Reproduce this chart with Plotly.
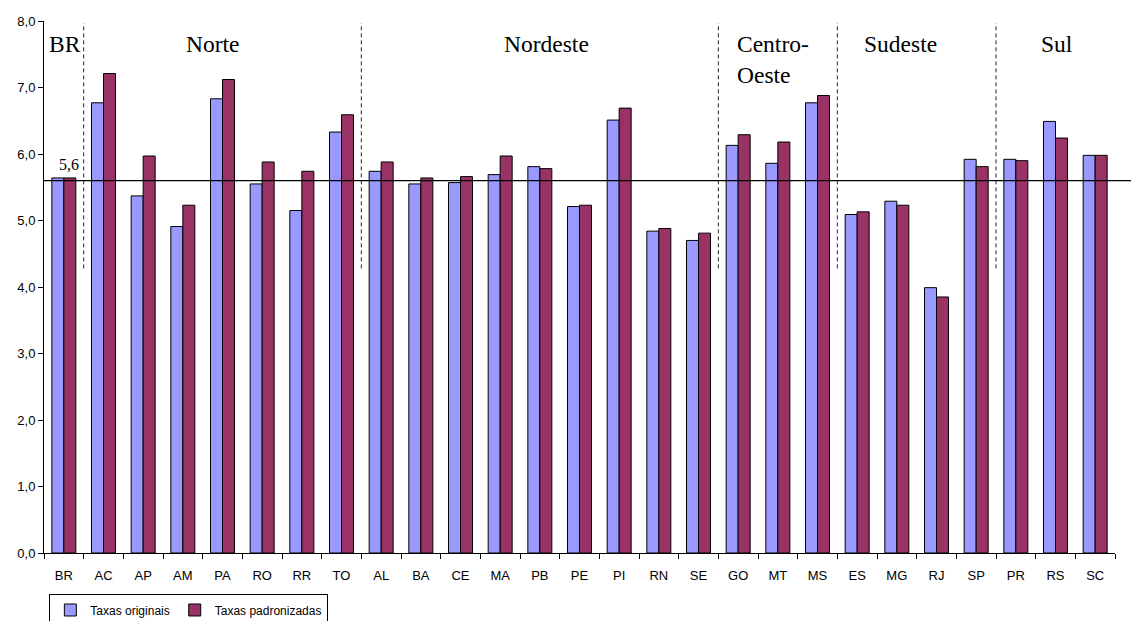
import plotly.graph_objects as go

# States grouped by region, with the national figure (BR) first
estados = ["BR", "AC", "AP", "AM", "PA", "RO", "RR", "TO",
           "AL", "BA", "CE", "MA", "PB", "PE", "PI", "RN", "SE",
           "GO", "MT", "MS", "ES", "MG", "RJ", "SP", "PR", "RS", "SC"]

taxas_originais = [5.64, 6.77, 5.37, 4.91, 6.83, 5.55, 5.15, 6.33,
                   5.74, 5.55, 5.57, 5.69, 5.81, 5.21, 6.51, 4.84, 4.70,
                   6.13, 5.86, 6.77, 5.09, 5.29, 3.99, 5.92, 5.92, 6.49, 5.98]

taxas_padronizadas = [5.64, 7.21, 5.97, 5.23, 7.12, 5.88, 5.74, 6.59,
                      5.88, 5.64, 5.66, 5.97, 5.78, 5.23, 6.69, 4.88, 4.81,
                      6.29, 6.18, 6.88, 5.13, 5.23, 3.85, 5.81, 5.90, 6.24, 5.98]

regioes = ["BR", "Norte", "Nordeste", "Centro-<br>Oeste", "Sudeste", "Sul"]
tamanho_regioes = [1, 7, 9, 3, 4, 3]

taxa_brasil = 5.6
rotulo_brasil = "5,6"

fig = go.Figure()
fig.add_trace(go.Bar(
    x=estados, y=taxas_originais, name="Taxas originais",
    marker=dict(color="#9999FF", line=dict(color="#000000", width=1)),
))
fig.add_trace(go.Bar(
    x=estados, y=taxas_padronizadas, name="Taxas padronizadas",
    marker=dict(color="#993366", line=dict(color="#000000", width=1)),
))

# horizontal reference line at the national rate
fig.add_shape(type="line", xref="paper", yref="y", x0=0, x1=1.015,
              y0=taxa_brasil, y1=taxa_brasil,
              line=dict(color="#000000", width=1.2))
fig.add_annotation(x=0.13, y=taxa_brasil, xref="x", yref="y",
                   text=rotulo_brasil, showarrow=False, yanchor="bottom",
                   yshift=6, font=dict(family="Liberation Serif", size=16, color="#000000"))

# dashed separators between regions
limite = -0.5
for n in tamanho_regioes[:-1]:
    limite += n
    fig.add_shape(type="line", xref="x", yref="y", x0=limite, x1=limite,
                  y0=4.28, y1=7.97,
                  line=dict(color="#222222", width=1, dash="4px,3px"))

# region titles
pos_regioes = [0.04, 3.77, 12.18, 16.92, 21.08, 25.03]
anc_regioes = ["center", "center", "center", "left", "center", "center"]
for nome, px, anc in zip(regioes, pos_regioes, anc_regioes):
    fig.add_annotation(x=px, y=7.88, xref="x", yref="y", text=nome,
                       showarrow=False, xanchor=anc, yanchor="top", align="left",
                       font=dict(family="Liberation Serif", size=23.5, color="#000000"))

fig.update_layout(
    width=1131, height=621,
    margin=dict(l=44, r=16, t=21, b=68, autoexpand=False),
    paper_bgcolor="white", plot_bgcolor="white",
    barmode="group", bargap=0.395, bargroupgap=0,
    separators=",.",
    font=dict(family="Liberation Sans", size=13, color="#000000"),
    showlegend=True,
    legend=dict(orientation="h", x=0.005, y=-0.078, xanchor="left", yanchor="top",
                bordercolor="#000000", borderwidth=1, bgcolor="white",
                font=dict(family="Liberation Sans", size=12, color="#000000"),
                itemwidth=30, tracegroupgap=0),
)
fig.update_xaxes(type="category", showline=True, linecolor="#000000", linewidth=1,
                 ticks="outside", ticklen=5, tickcolor="#000000", tickson="boundaries",
                 showgrid=False, tickfont=dict(size=13), ticklabelstandoff=10)
fig.update_yaxes(range=[0, 8], dtick=1, tickformat=".1f", showline=True,
                 linecolor="#000000", linewidth=1, ticks="outside", ticklen=5,
                 tickcolor="#000000", showgrid=False, zeroline=False,
                 tickfont=dict(size=13))

fig.write_html("out.html")
